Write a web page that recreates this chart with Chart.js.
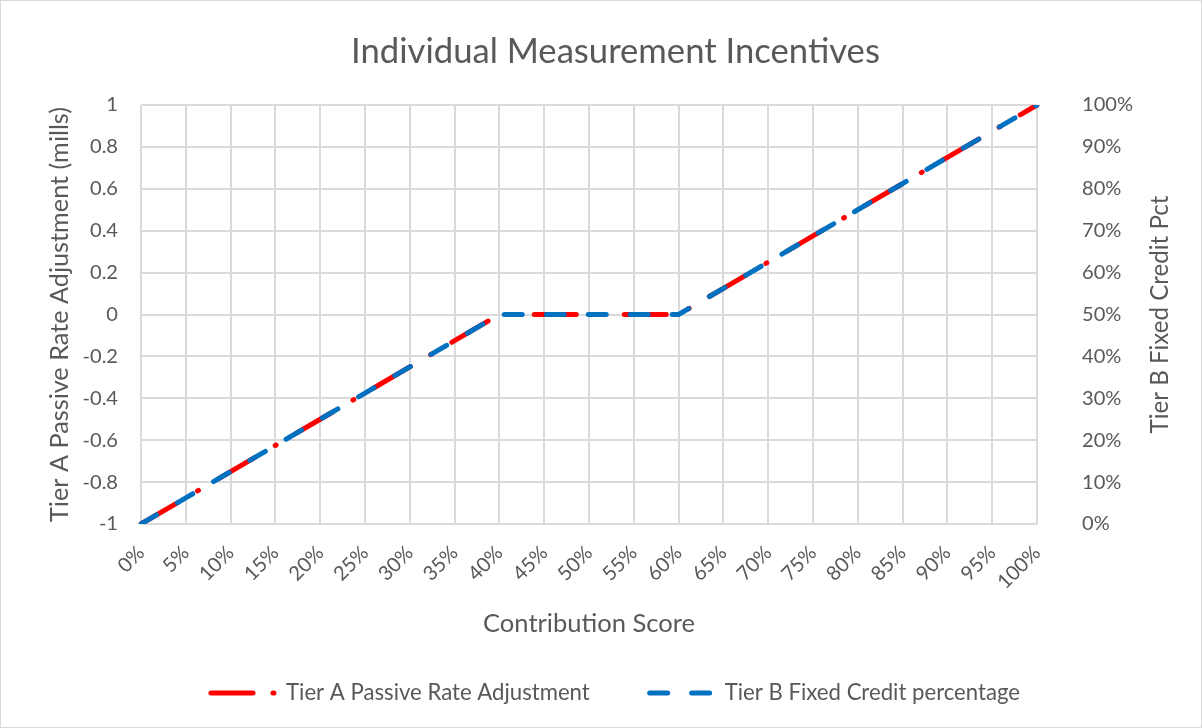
<!DOCTYPE html>
<html>
<head>
<meta charset="utf-8">
<script src="https://cdn.jsdelivr.net/npm/chart.js@4.4.0/dist/chart.umd.min.js"></script>
<style>
html,body{margin:0;padding:0;background:#fff;}
#wrap{width:1202px;height:728px;position:relative;}
canvas{display:block;}
</style>
</head>
<body>
<div id="wrap"><canvas id="c" width="1202" height="728"></canvas></div>
<script>
// ---- data ----
const categories = ['0%','5%','10%','15%','20%','25%','30%','35%','40%','45%','50%','55%','60%','65%','70%','75%','80%','85%','90%','95%','100%'];
const tierA = [-1,-0.875,-0.75,-0.625,-0.5,-0.375,-0.25,-0.125,0,0,0,0,0,0.125,0.25,0.375,0.5,0.625,0.75,0.875,1];
const tierB = [0,0.0625,0.125,0.1875,0.25,0.3125,0.375,0.4375,0.5,0.5,0.5,0.5,0.5,0.5625,0.625,0.6875,0.75,0.8125,0.875,0.9375,1];
const seriesNames = ['Tier A Passive Rate Adjustment','Tier B Fixed Credit percentage'];
const chartTitle = 'Individual Measurement Incentives';
const xTitle = 'Contribution Score';
const leftTitle = 'Tier A Passive Rate Adjustment (mills)';
const rightTitle = 'Tier B Fixed Credit Pct';

// ---- styling helpers ----
const FAMILY = 'Lato';
const TXT = '#595959';
const GRID = '#dadada';
const mctx = document.createElement('canvas').getContext('2d');
function fitSize(text, width){ mctx.font = '100px ' + FAMILY; return 100 * width / mctx.measureText(text).width; }

const tickFs = fitSize('100%', 51);
const titleFs = fitSize(chartTitle, 529);
const xTitleFs = fitSize(xTitle, 212);
const legendFs = fitSize(seriesNames[0], 304);
const leftTitleFs = fitSize(leftTitle, 415);
const rightTitleFs = fitSize(rightTitle, 238);

const CH = {left:141, right:1037, top:105, bottom:524};
const padLeft = 29;
const legendBoxW = 64;
const legendPad = 439 - legendBoxW - legendFs/2 - 304;
const padBottom = 25 - legendFs/2;
const xBottom = 728 - padBottom - legendFs - legendPad - 10;
const xAxisH = xBottom - CH.bottom;
const xTitleLH = xTitleFs * 1.2;
const titleLH = titleFs * 1.2;
const leftLH = leftTitleFs * 1.2;

const rightTitlePlugin = {
  id: 'rightTitle',
  beforeDraw(chart){
    const c = chart.ctx; c.save(); c.fillStyle = '#fff'; c.fillRect(0,0,chart.width,chart.height); c.restore();
  },
  afterDraw(chart){
    const c = chart.ctx;
    c.save();
    c.translate(1160, (CH.top + CH.bottom)/2);
    c.rotate(-Math.PI/2);
    c.font = rightTitleFs + 'px ' + FAMILY;
    c.fillStyle = TXT; c.textAlign = 'center'; c.textBaseline = 'middle';
    c.fillText(rightTitle, 0, 0);
    c.restore();
    c.save();
    c.strokeStyle = '#d9d9d9'; c.lineWidth = 1;
    c.strokeRect(0.5, 0.5, chart.width - 1, chart.height - 1);
    c.restore();
  }
};

const lineDash = [[42, 23.5, 1, 23.5], [18, 24]];
const legendDash = [[42, 20, 1, 30], [18, 24]];

new Chart(document.getElementById('c'), {
  type: 'line',
  data: {
    labels: categories,
    datasets: [
      { label: seriesNames[0], data: tierA, yAxisID: 'y', borderColor: '#FF0000', backgroundColor: '#FF0000',
        borderWidth: 5, borderDash: lineDash[0], borderCapStyle: 'round', pointRadius: 0, tension: 0, order: 1 },
      { label: seriesNames[1], data: tierB, yAxisID: 'y1', borderColor: '#0070C0', backgroundColor: '#0070C0',
        borderWidth: 5, borderDash: lineDash[1], borderCapStyle: 'round', pointRadius: 0, tension: 0, order: 0 }
    ]
  },
  options: {
    responsive: false,
    animation: false,
    devicePixelRatio: 1,
    layout: { padding: { left: padLeft, right: 0, top: 0, bottom: padBottom } },
    plugins: {
      tooltip: { enabled: false },
      title: { display: true, text: chartTitle, color: TXT,
        font: { family: FAMILY, size: titleFs, weight: 'normal' },
        padding: { top: 52 - titleLH/2, bottom: (CH.top - 52) - titleLH/2 } },
      legend: {
        display: true, position: 'bottom',
        labels: {
          color: TXT, font: { family: FAMILY, size: legendFs },
          usePointStyle: true, pointStyle: 'line', pointStyleWidth: legendBoxW, padding: legendPad,
          generateLabels(chart){
            const items = Chart.defaults.plugins.legend.labels.generateLabels(chart);
            items.forEach(it => { it.pointStyle = 'line'; it.lineCap = 'round'; it.lineWidth = 5; it.lineDash = legendDash[it.datasetIndex]; it.lineDashOffset = 0; });
            return items.sort((a,b) => a.datasetIndex - b.datasetIndex);
          }
        }
      }
    },
    scales: {
      x: {
        type: 'category', offset: false,
        grid: { color: GRID, lineWidth: 2, drawTicks: false },
        border: { display: false },
        ticks: { color: TXT, font: { family: FAMILY, size: tickFs }, minRotation: 45, maxRotation: 45, autoSkip: false, padding: 17 },
        title: { display: true, text: xTitle, color: TXT, font: { family: FAMILY, size: xTitleFs },
          padding: { top: 0, bottom: xBottom - 624 - xTitleLH/2 } },
        afterFit(s){ s.height = xAxisH; }
      },
      y: {
        position: 'left', min: -1, max: 1,
        grid: { color: GRID, lineWidth: 2, drawTicks: false },
        border: { display: false },
        ticks: { stepSize: 0.2, color: TXT, font: { family: FAMILY, size: tickFs }, padding: 23,
          callback: v => String(parseFloat(Number(v).toFixed(1))) },
        title: { display: true, text: leftTitle, color: TXT, font: { family: FAMILY, size: leftTitleFs },
          padding: { top: 60 - padLeft - leftLH/2, bottom: 0 } },
        afterFit(s){ s.width = CH.left - padLeft; }
      },
      y1: {
        position: 'right', min: 0, max: 1,
        grid: { drawOnChartArea: false, drawTicks: false },
        border: { display: false },
        ticks: { stepSize: 0.1, color: TXT, font: { family: FAMILY, size: tickFs }, padding: 45,
          callback: v => Math.round(v * 100) + '%' },
        afterFit(s){ s.width = 1202 - CH.right; }
      }
    }
  },
  plugins: [rightTitlePlugin]
});
</script>
</body>
</html>
